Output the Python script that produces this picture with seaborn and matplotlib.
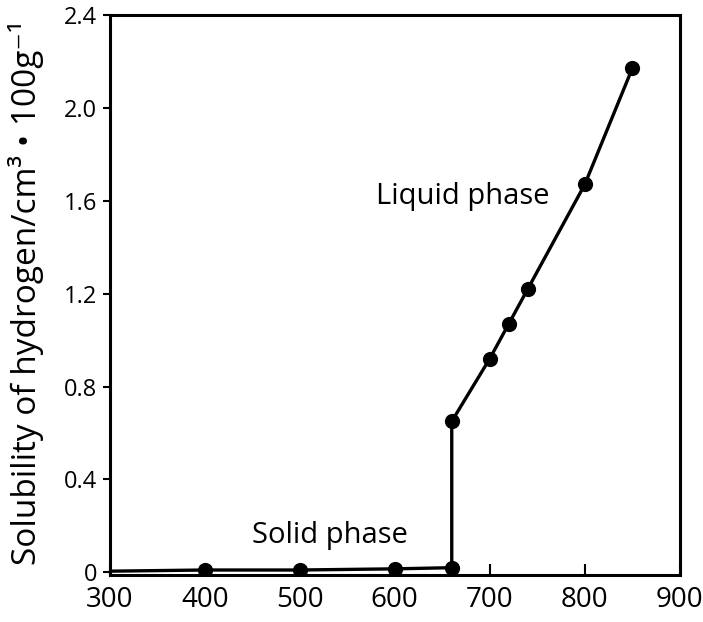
import matplotlib
matplotlib.use("Agg")
import matplotlib.pyplot as plt
import seaborn as sns
import pandas as pd

# Data
temperature = [300, 400, 500, 600, 660, 660, 700, 720, 740, 800, 850]
solubility = [0.005, 0.01, 0.01, 0.015, 0.02, 0.65, 0.92, 1.07, 1.22, 1.67, 2.17]
has_marker = [False, True, True, True, True, True, True, True, True, True, True]
x_ticks = [300, 400, 500, 600, 700, 800, 900]
y_ticks = [0, 0.4, 0.8, 1.2, 1.6, 2.0, 2.4]
y_tick_labels = ["0", "0.4", "0.8", "1.2", "1.6", "2.0", "2.4"]

df = pd.DataFrame({"T": temperature, "S": solubility, "m": has_marker})

sns.set_style("ticks")
plt.rcParams["font.family"] = ["Open Sans", "DejaVu Sans"]
for k in ["text.color", "axes.labelcolor", "xtick.color", "ytick.color", "axes.edgecolor"]:
    plt.rcParams[k] = "black"

fig = plt.figure(figsize=(7.03, 6.22), dpi=100)
ax = fig.add_axes([0.156, 0.075, 0.811, 0.901])

ax.plot(df["T"], df["S"], color="black", lw=2.4, zorder=2)
sns.scatterplot(data=df[df["m"]], x="T", y="S", color="black", s=120,
                edgecolor="black", linewidth=0, ax=ax, zorder=3)

ax.set_xlim(300, 900)
ax.set_ylim(-0.013, 2.4)
ax.set_xticks(x_ticks)
ax.set_yticks(y_ticks)
ax.set_yticklabels(y_tick_labels)
ax.tick_params(axis="x", direction="in", length=8, width=1.5, labelsize=20, pad=7.5)
ax.tick_params(axis="y", direction="out", length=5, width=1.5, labelsize=17, pad=4)
for s in ax.spines.values():
    s.set_visible(True)
    s.set_linewidth(2.2)
    s.set_color("black")

ax.set_xlabel("")
ax.set_ylabel("Solubility of hydrogen/cm³ • 100g⁻¹", fontsize=24)
ax.yaxis.set_label_coords(-0.115, 0.505)

ax.text(672, 1.62, "Liquid phase", fontsize=21, ha="center", va="center")
ax.text(532, 0.16, "Solid phase", fontsize=21, ha="center", va="center")

fig.savefig("out.png", dpi=100)
